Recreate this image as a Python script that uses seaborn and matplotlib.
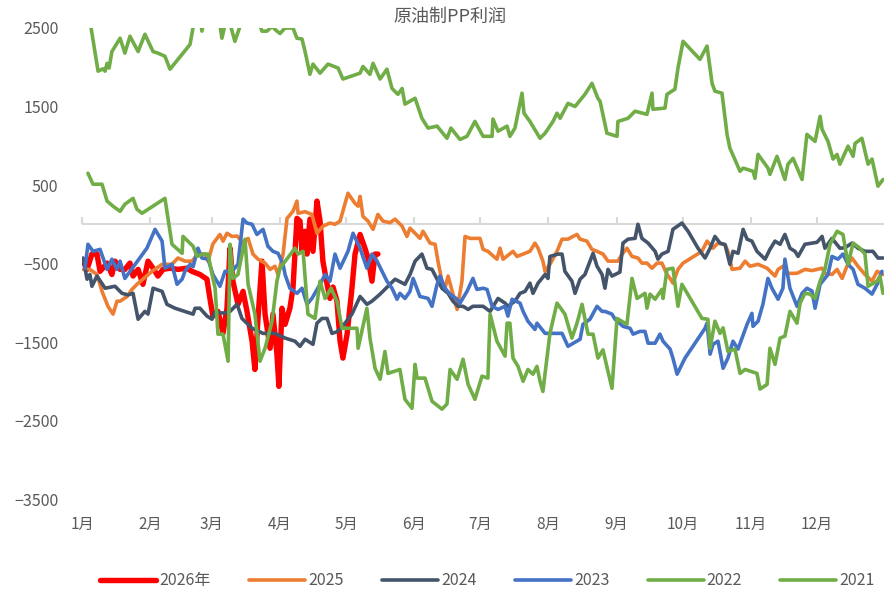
import matplotlib
matplotlib.use("Agg")
import matplotlib.pyplot as plt
import seaborn as sns
import pandas as pd

# -----------------------------
# Data (day of year, profit yuan/t)
# -----------------------------
days_2026 = [0.5, 2.3, 4.5, 6.8, 8.2, 11.4, 13.6, 15.0, 17.3, 19.5,
             21.8, 23.2, 25.5, 27.7, 30.0, 32.3, 34.5, 36.8, 40.0, 43.6,
             47.7, 50.0, 53.6, 56.8, 58.2, 59.5, 61.8, 64.1, 65.9, 67.3,
             68.6, 70.9, 73.2, 75.0, 77.3, 78.6, 80.0, 81.8, 83.2, 85.5,
             86.8, 88.6, 89.5, 90.9, 92.3, 94.5, 95.9, 97.7, 99.1, 100.0,
             101.4, 102.3, 103.6, 105.0, 106.8, 108.2, 109.5, 111.4, 112.7, 114.1,
             115.9, 117.3, 118.6, 120.5, 122.7, 124.1, 126.4, 128.6, 130.0, 131.8,
             133.2, 134.5]
vals_2026 = [-470, -575, -380, -380, -600, -495, -640, -470, -575, -575,
             -495, -660, -575, -765, -470, -560, -660, -575, -560, -575,
             -560, -600, -640, -700, -955, -1170, -1110, -1390, -1070, -305,
             -725, -1020, -855, -1110, -1490, -1850, -1200, -470, -1145, -1580,
             -1145, -1655, -2065, -1070, -1275, -1070, -815, 75, 40, -345,
             -90, -380, 65, -345, 295, 40, -470, -765, -945, -800,
             -980, -1490, -1705, -1400, -815, -380, -130, -305, -430, -725,
             -380, -380]

days_2025 = [0.5, 3.6, 6.8, 9.1, 11.8, 14.1, 15.9, 17.3, 20.5, 22.7,
             25.0, 31.8, 36.4, 40.9, 43.6, 46.8, 50.0, 52.7, 55.9, 57.3,
             59.5, 62.7, 64.1, 65.9, 68.2, 70.5, 73.2, 75.5, 77.7, 80.0,
             83.2, 85.5, 87.7, 89.1, 91.4, 93.2, 95.9, 97.7, 98.2, 101.4,
             104.5, 106.8, 109.5, 112.7, 115.0, 117.3, 120.9, 124.1, 125.5, 126.4,
             127.7, 130.0, 132.3, 134.5, 136.8, 140.0, 142.3, 145.5, 147.7, 149.1,
             151.4, 153.6, 155.0, 158.2, 160.5, 161.8, 163.6, 165.0, 166.4, 168.6,
             170.5, 172.7, 174.1, 176.4, 180.9, 182.3, 184.5, 188.6, 190.0, 191.4,
             195.9, 197.7, 200.5, 203.6, 205.9, 207.3, 209.5, 210.5, 212.7, 215.9,
             218.2, 220.9, 223.2, 225.0, 226.4, 229.5, 231.8, 234.1, 236.8, 239.1,
             243.6, 245.5, 247.7, 250.0, 252.7, 254.5, 256.8, 259.1, 261.4, 263.6,
             265.9, 267.3, 268.6, 270.9, 273.2, 281.8, 284.1, 286.8, 289.1, 292.3,
             293.6, 295.5, 299.1, 301.4, 303.6, 307.3, 311.4, 315.0, 316.4, 318.6,
             320.9, 325.0, 328.6, 331.8, 336.4, 337.7, 340.9, 343.2, 345.5, 347.7,
             350.0, 352.7, 355.9, 359.1, 361.4, 364.1]
vals_2025 = [-575, -575, -640, -855, -1045, -1145, -980, -980, -920, -830,
             -765, -600, -510, -510, -430, -470, -470, -380, -380, -470,
             -250, -130, -215, -115, -155, -150, -240, -180, -380, -445,
             -495, -575, -535, -640, -380, 75, 165, 295, 140, 160,
             125, -115, -25, 15, 0, 40, 395, 265, 230, 355,
             100, 40, -65, 125, 40, 20, 65, -25, -155, -50,
             -115, -180, -90, -240, -255, -470, -725, -815, -660, -890,
             -1085, -725, -155, -180, -180, -320, -345, -445, -305, -445,
             -345, -410, -380, -345, -240, -305, -470, -600, -510, -345,
             -190, -190, -155, -130, -190, -215, -320, -345, -380, -470,
             -470, -380, -305, -410, -430, -495, -495, -560, -495, -495,
             -640, -690, -750, -575, -495, -345, -215, -305, -240, -260,
             -345, -575, -560, -470, -535, -510, -560, -660, -575, -535,
             -625, -625, -575, -590, -560, -625, -640, -575, -690, -535,
             -430, -535, -640, -725, -600, -640]

days_2024 = [0.5, 2.3, 3.6, 4.5, 6.8, 10.5, 15.0, 18.2, 20.9, 23.2,
             25.5, 28.6, 30.0, 32.3, 36.4, 38.6, 42.3, 50.5, 51.4, 53.6,
             56.8, 59.1, 60.5, 62.7, 65.0, 67.3, 70.5, 72.7, 77.3, 82.3,
             87.7, 92.3, 96.8, 99.1, 101.4, 105.0, 106.8, 109.1, 111.4, 113.6,
             115.9, 118.2, 122.7, 126.4, 129.5, 131.8, 135.5, 139.1, 142.3, 146.8,
             149.1, 151.4, 154.5, 156.8, 159.1, 161.4, 163.6, 166.4, 168.6, 170.9,
             173.2, 175.5, 177.7, 182.3, 185.5, 189.1, 192.3, 193.6, 196.8, 199.1,
             201.4, 203.6, 205.0, 207.3, 210.5, 211.8, 212.7, 216.4, 218.2, 219.5,
             222.7, 224.1, 226.4, 228.6, 232.3, 234.1, 236.4, 237.7, 239.1, 240.9,
             244.5, 245.9, 248.2, 251.4, 252.7, 254.5, 257.3, 260.5, 261.8, 263.6,
             266.4, 268.6, 272.7, 275.5, 280.0, 283.2, 285.5, 287.7, 290.0, 292.3,
             294.5, 295.9, 298.2, 300.5, 302.3, 304.5, 306.8, 310.5, 312.7, 315.0,
             317.3, 319.5, 321.8, 324.1, 325.5, 328.6, 331.8, 334.1, 336.4, 337.7,
             340.9, 344.5, 346.8, 350.0, 352.7, 355.9, 359.5, 361.8, 364.1]
vals_2024 = [-430, -700, -640, -790, -660, -815, -790, -880, -900, -880,
             -1210, -1110, -1145, -815, -855, -1020, -1070, -1145, -1070, -1070,
             -1170, -1210, -1110, -1130, -1130, -1110, -1020, -1200, -1325, -1390,
             -1390, -1450, -1490, -1555, -1465, -1530, -1260, -1200, -1200, -1390,
             -1370, -1310, -1145, -920, -1020, -980, -890, -790, -700, -765,
             -640, -470, -380, -560, -575, -700, -815, -880, -980, -1045,
             -1045, -1085, -1045, -1045, -1110, -945, -1005, -1045, -980, -880,
             -855, -750, -880, -750, -640, -690, -410, -380, -380, -600,
             -725, -880, -700, -640, -370, -535, -640, -815, -575, -660,
             -610, -240, -190, -180, 0, -180, -240, -345, -445, -380,
             -345, -65, 15, -90, -305, -430, -305, -155, -240, -260,
             -510, -345, -370, -65, -190, -215, -345, -445, -320, -215,
             -255, -130, -305, -345, -410, -255, -240, -230, -155, -305,
             -180, -305, -300, -240, -305, -345, -345, -430, -430]

days_2023 = [1.4, 2.7, 5.0, 8.2, 11.4, 13.6, 15.9, 17.3, 19.5, 29.5,
             33.2, 36.4, 37.7, 40.9, 43.2, 45.5, 46.8, 49.1, 50.5, 52.7,
             54.5, 57.3, 59.5, 62.7, 65.0, 68.2, 70.9, 73.2, 75.0, 77.3,
             79.5, 82.3, 84.5, 86.8, 89.1, 91.4, 92.3, 94.5, 97.7, 100.0,
             102.3, 104.5, 108.2, 110.5, 112.7, 115.0, 117.3, 120.9, 123.2, 126.4,
             129.5, 131.8, 134.1, 136.4, 138.6, 140.9, 143.2, 144.5, 146.8, 149.1,
             150.5, 153.6, 157.3, 159.1, 161.4, 162.7, 165.0, 167.3, 170.5, 171.8,
             175.0, 177.7, 179.5, 182.3, 184.1, 186.4, 189.1, 192.3, 193.6, 195.5,
             199.1, 200.5, 202.7, 205.9, 206.8, 210.5, 215.0, 218.2, 220.9, 226.4,
             227.7, 230.9, 234.1, 236.4, 237.7, 240.9, 242.3, 245.9, 249.1, 250.5,
             253.6, 255.9, 257.3, 260.5, 262.7, 264.1, 267.3, 268.6, 270.5, 274.1,
             283.2, 284.1, 285.5, 286.8, 289.1, 291.4, 293.6, 295.9, 298.2, 300.0,
             302.3, 304.5, 305.0, 307.3, 309.5, 311.8, 313.6, 316.4, 318.6, 319.5,
             321.8, 325.0, 327.3, 329.5, 331.8, 333.2, 335.5, 339.1, 340.9, 343.6,
             345.9, 348.2, 350.5, 352.7, 355.9, 359.1, 361.4, 363.6]
vals_2023 = [-560, -255, -345, -320, -575, -445, -575, -470, -690, -305,
             -65, -215, -560, -510, -765, -700, -600, -510, -540, -305,
             -430, -445, -640, -790, -600, -600, -510, 65, 15, 0,
             -130, -65, -280, -345, -370, -510, -640, -815, -880, -815,
             -1020, -945, -765, -640, -725, -380, -560, -345, -115, -305,
             -560, -380, -470, -600, -725, -815, -955, -880, -945, -855,
             -690, -920, -945, -1045, -765, -660, -815, -890, -955, -1005,
             -855, -690, -830, -815, -830, -1045, -1085, -1045, -1170, -955,
             -1005, -1110, -1235, -1340, -1260, -1390, -1390, -1390, -1555, -1465,
             -1275, -1210, -1045, -1110, -1110, -1145, -1210, -1300, -1325, -1400,
             -1365, -1365, -1515, -1515, -1400, -1490, -1590, -1705, -1910, -1705,
             -1325, -1260, -1655, -1530, -1490, -1835, -1705, -1490, -1590, -1450,
             -1275, -1135, -1300, -1235, -1020, -690, -815, -955, -815, -445,
             -815, -1045, -880, -815, -850, -1070, -765, -640, -410, -445,
             -380, -510, -575, -765, -815, -890, -765, -600]

days_2022 = [2.7, 5.0, 9.1, 11.4, 14.1, 17.3, 19.5, 23.2, 25.0, 27.3,
             37.7, 39.1, 40.9, 45.5, 45.9, 50.5, 52.3, 55.0, 57.3, 59.1,
             60.5, 61.8, 64.1, 66.4, 67.3, 68.6, 70.9, 74.1, 75.5, 78.6,
             80.9, 83.2, 86.4, 88.6, 90.0, 96.8, 98.2, 100.5, 102.7, 105.9,
             108.2, 110.5, 113.2, 115.9, 118.2, 125.0, 125.5, 129.5, 130.9, 133.2,
             135.5, 137.7, 139.1, 144.5, 146.8, 150.0, 151.4, 152.3, 155.9, 159.1,
             163.6, 165.9, 167.3, 170.5, 173.2, 175.5, 178.6, 181.8, 184.5, 185.5,
             188.6, 192.3, 193.2, 194.5, 195.9, 198.2, 200.5, 202.7, 205.0, 206.8,
             208.2, 209.5, 212.7, 215.9, 219.5, 222.7, 225.0, 227.3, 230.0, 232.3,
             234.5, 236.8, 240.9, 243.2, 247.7, 250.0, 252.3, 255.9, 256.8, 258.2,
             260.5, 263.6, 264.1, 265.9, 268.6, 270.9, 272.7, 281.8, 284.5, 285.5,
             287.7, 290.0, 291.4, 293.6, 296.8, 299.1, 301.4, 306.8, 308.2, 311.4,
             312.7, 315.0, 317.3, 319.5, 321.8, 325.0, 326.4, 328.6, 330.9, 333.2,
             335.5, 337.7, 340.0, 343.2, 345.9, 348.2, 350.5, 353.6, 355.9, 357.3,
             361.4, 362.7, 364.1]
vals_2022 = [650, 510, 510, 295, 230, 165, 255, 330, 190, 140,
             330, 75, -255, -370, -155, -280, -410, -380, -380, -640,
             -815, -1400, -1400, -1745, -255, -690, -640, -190, -765, -1145,
             -1745, -1580, -1235, -725, -560, -305, -380, -345, -1145, -1200,
             -725, -945, -815, -980, -1325, -1325, -1580, -1070, -1450, -1835,
             -1975, -1620, -1900, -1850, -2230, -2345, -1785, -1960, -1960, -2255,
             -2355, -2290, -1850, -1975, -1720, -2040, -2230, -1935, -1960, -1145,
             -1490, -1680, -1260, -1260, -1705, -1810, -2000, -1850, -1910, -1810,
             -2000, -2130, -1390, -1005, -1145, -1450, -1260, -1020, -1400, -1400,
             -1705, -1600, -2090, -1200, -1275, -690, -945, -880, -1070, -890,
             -955, -830, -945, -575, -560, -1045, -765, -1200, -1210, -1580,
             -1235, -1390, -1320, -1620, -1590, -1900, -1850, -1900, -2100, -2040,
             -1580, -1785, -1450, -1425, -1110, -1260, -1005, -880, -890, -945,
             -725, -575, -255, -90, -130, -510, -240, -305, -380, -790,
             -725, -660, -880]

days_2021 = [2.7, 7.3, 9.5, 10.5, 11.4, 12.3, 13.6, 17.3, 19.5, 21.8,
             25.5, 28.6, 32.3, 34.5, 37.7, 40.0, 44.5, 49.1, 51.4, 53.6,
             54.5, 55.9, 59.1, 61.8, 63.6, 65.5, 67.3, 69.5, 71.8, 75.5,
             80.0, 81.8, 84.1, 86.4, 88.2, 90.0, 92.3, 95.9, 97.7, 100.0,
             101.4, 103.6, 105.0, 108.2, 111.8, 116.4, 118.6, 126.4, 127.7, 130.9,
             132.3, 135.5, 138.6, 140.9, 143.6, 145.5, 146.8, 151.4, 154.5, 157.3,
             161.4, 165.9, 167.7, 171.8, 175.0, 178.6, 182.3, 186.4, 186.8, 189.1,
             193.2, 194.5, 196.8, 200.0, 200.9, 203.6, 208.2, 210.5, 214.1, 215.9,
             217.3, 220.9, 224.1, 228.6, 231.8, 234.5, 235.5, 238.6, 243.2, 243.6,
             248.2, 251.4, 256.8, 259.1, 259.5, 265.0, 265.9, 269.5, 270.9, 273.2,
             280.9, 284.1, 286.4, 287.7, 290.9, 293.2, 294.5, 299.1, 300.5, 305.0,
             305.9, 307.3, 311.8, 312.7, 315.9, 319.5, 320.9, 323.2, 327.3, 329.5,
             333.2, 335.5, 336.4, 339.1, 341.4, 343.2, 344.5, 348.2, 350.5, 351.4,
             354.5, 357.3, 359.1, 361.8, 364.1]
vals_2021 = [2750, 1950, 1980, 1950, 2050, 1990, 2200, 2370, 2180, 2395,
             2200, 2420, 2200, 2180, 2140, 1975, 2130, 2290, 2650, 2700,
             2460, 2650, 2650, 2700, 2370, 2600, 2550, 2330, 2520, 2650,
             2600, 2460, 2460, 2520, 2470, 2430, 2500, 2500, 2370, 2360,
             2200, 1910, 2040, 1925, 2040, 1990, 1850, 1925, 2010, 1910,
             2050, 1850, 1975, 1730, 1655, 1730, 1530, 1605, 1350, 1225,
             1250, 1095, 1225, 1080, 1120, 1310, 1120, 1120, 1340, 1185,
             1250, 1120, 1225, 1670, 1415, 1310, 1095, 1160, 1310, 1415,
             1350, 1540, 1500, 1655, 1795, 1605, 1565, 1160, 1120, 1310,
             1350, 1440, 1400, 1670, 1465, 1480, 1655, 1720, 1990, 2330,
             2100, 2270, 1795, 1695, 1670, 1145, 970, 675, 715, 675,
             585, 890, 715, 635, 865, 570, 765, 840, 570, 1145,
             1055, 1375, 1210, 1055, 830, 890, 765, 995, 865, 1030,
             1095, 765, 830, 485, 570]

years = ["2026年", "2025", "2024", "2023", "2022", "2021"]
month_starts = [0, 31, 59, 90, 120, 151, 181, 212, 243, 273, 304, 334]
month_labels = ["1月", "2月", "3月", "4月", "5月", "6月",
                "7月", "8月", "9月", "10月", "11月", "12月"]
y_ticks = [-3500, -2500, -1500, -500, 500, 1500, 2500]

series = [
    (days_2026, vals_2026, "#FF0000", 3.9),
    (days_2025, vals_2025, "#ED7D31", 2.6),
    (days_2024, vals_2024, "#44546A", 2.6),
    (days_2023, vals_2023, "#4472C4", 2.6),
    (days_2022, vals_2022, "#70AD47", 2.6),
    (days_2021, vals_2021, "#70AD47", 2.6),
]

# -----------------------------
# Plot
# -----------------------------
sns.set_style("white")
plt.rcParams["font.family"] = ["Noto Sans CJK SC", "DejaVu Sans"]
text_color = "#595959"

fig = plt.figure(figsize=(8.84, 5.92), dpi=100)
ax = fig.add_axes([82 / 884, 93 / 592, 803 / 884, 471 / 592])

for year, (d, v, color, lw) in zip(years, series):
    df = pd.DataFrame({"day": d, "value": v})
    sns.lineplot(
        data=df, x="day", y="value", ax=ax,
        color=color, linewidth=lw, label=year,
        estimator=None, sort=False
    )

ax.set_xlim(0, 365)
ax.set_ylim(-3500, 2500)
ax.set_xlabel("")
ax.set_ylabel("")

for s in ax.spines.values():
    s.set_visible(False)

ax.set_yticks(y_ticks)
ax.set_xticks(month_starts)
ax.set_xticklabels(month_labels)
ax.tick_params(axis="y", length=0, pad=17, labelsize=11.5, labelcolor=text_color)
ax.tick_params(axis="x", length=0, pad=12, labelsize=11, labelcolor=text_color)

# zero line with month tick marks
ax.axhline(0, color="#D9D9D9", linewidth=1.5, zorder=0.5)
sec = ax.secondary_xaxis(0, transform=ax.transData)
sec.set_xticks(month_starts)
sec.tick_params(direction="in", length=5, width=1.5, color="#D9D9D9",
                labeltop=False, labelbottom=False)
for s in sec.spines.values():
    s.set_visible(False)

fig.text(0.509, 0.971, "原油制PP利润", ha="center", va="center",
         fontsize=13, color=text_color)

leg = ax.legend(
    loc="center", bbox_to_anchor=(0.505, -0.174), ncol=6, frameon=False,
    fontsize=11.5, labelcolor=text_color, handlelength=3.5,
    handletextpad=0.2, columnspacing=2.4
)
for h in leg.legend_handles:
    h.set_solid_capstyle("round")

plt.savefig("out.png", dpi=100)
plt.close()
